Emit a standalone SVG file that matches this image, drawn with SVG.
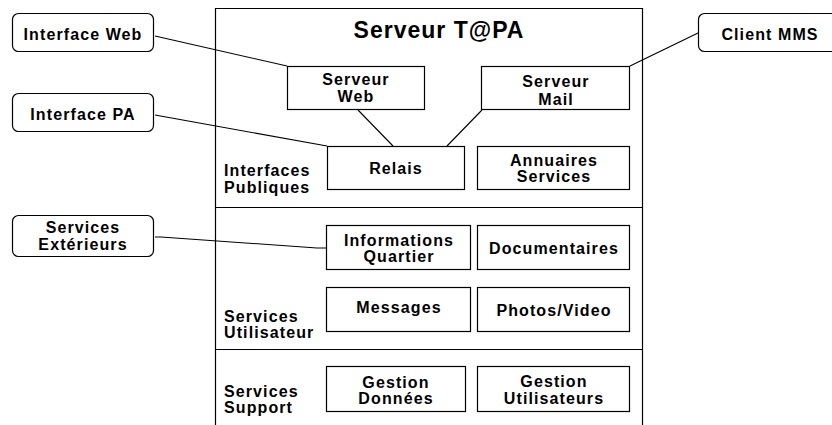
<svg xmlns="http://www.w3.org/2000/svg" width="832" height="425" viewBox="0 0 832 425">
<style>
  text { font-family: "Liberation Sans", Arial, sans-serif; font-weight: bold; font-size: 16px; letter-spacing: 1.1px; fill: #000; }
  .c { text-anchor: middle; }
  .title { font-size: 23px; letter-spacing: 1px; }
  .box { fill: #fff; stroke: #000; stroke-width: 1.2; }
  .ext { fill: #fff; stroke: #000; stroke-width: 1.2; }
  .frame { fill: none; stroke: #000; stroke-width: 1.2; }
  .conn line, .conn polyline { fill: none; stroke: #000; stroke-width: 1.1; }
</style>
<rect width="832" height="425" fill="#fff"/>

<g id="serveur-tapa">
  <polyline class="frame" points="215.5,426 215.5,8.5 642.5,8.5 642.5,426"/>
  <line class="frame" x1="215.5" y1="207.5" x2="642.5" y2="207.5"/>
  <line class="frame" x1="215.5" y1="349.5" x2="642.5" y2="349.5"/>
  <text class="title c" x="439" y="38">Serveur T@PA</text>
  <text x="224" y="176">Interfaces</text>
  <text x="224" y="193">Publiques</text>
  <text x="224" y="322">Services</text>
  <text x="224" y="338">Utilisateur</text>
  <text x="224" y="397">Services</text>
  <text x="224" y="413">Support</text>
</g>

<g class="conn" id="connectors">
  <line x1="155" y1="36" x2="287" y2="66"/>
  <line x1="155" y1="115" x2="327" y2="146"/>
  <polyline points="155,237 161,237 317,248 326,248"/>
  <line x1="698" y1="33" x2="630" y2="66"/>
  <line x1="358" y1="110" x2="393" y2="146"/>
  <line x1="482" y1="110" x2="447" y2="146"/>
</g>

<g id="interface-web">
  <rect class="ext" x="12.5" y="13.5" width="141" height="38" rx="6"/>
  <text class="c" x="83" y="40">Interface Web</text>
</g>
<g id="interface-pa">
  <rect class="ext" x="12.5" y="93.5" width="141" height="38" rx="6"/>
  <text class="c" x="83" y="120">Interface PA</text>
</g>
<g id="services-exterieurs">
  <rect class="ext" x="12.5" y="215.5" width="141" height="41" rx="6"/>
  <text class="c" x="83" y="233">Services</text>
  <text class="c" x="83" y="250">Extérieurs</text>
</g>
<g id="client-mms">
  <rect class="ext" x="698.5" y="13.5" width="143" height="38" rx="6"/>
  <text class="c" x="770" y="40">Client MMS</text>
</g>

<g id="serveur-web">
  <rect class="box" x="287.5" y="66.5" width="137" height="43"/>
  <text class="c" x="356" y="85">Serveur</text>
  <text class="c" x="356" y="102">Web</text>
</g>
<g id="serveur-mail">
  <rect class="box" x="481.5" y="66.5" width="148" height="43"/>
  <text class="c" x="556" y="87">Serveur</text>
  <text class="c" x="556" y="105">Mail</text>
</g>
<g id="relais">
  <rect class="box" x="327.5" y="146.5" width="137" height="43"/>
  <text class="c" x="396" y="174">Relais</text>
</g>
<g id="annuaires-services">
  <rect class="box" x="477.5" y="146.5" width="152" height="43"/>
  <text class="c" x="554" y="166">Annuaires</text>
  <text class="c" x="554" y="182">Services</text>
</g>
<g id="informations-quartier">
  <rect class="box" x="326.5" y="225.5" width="144" height="44"/>
  <text class="c" x="399" y="246">Informations</text>
  <text class="c" x="399" y="262">Quartier</text>
</g>
<g id="documentaires">
  <rect class="box" x="477.5" y="225.5" width="152" height="44"/>
  <text class="c" x="554" y="254">Documentaires</text>
</g>
<g id="messages">
  <rect class="box" x="326.5" y="287.5" width="144" height="44"/>
  <text class="c" x="399" y="313">Messages</text>
</g>
<g id="photos-video">
  <rect class="box" x="477.5" y="287.5" width="152" height="44"/>
  <text class="c" x="554" y="316">Photos/Video</text>
</g>
<g id="gestion-donnees">
  <rect class="box" x="326.5" y="366.5" width="139" height="45"/>
  <text class="c" x="396" y="388">Gestion</text>
  <text class="c" x="396" y="404">Données</text>
</g>
<g id="gestion-utilisateurs">
  <rect class="box" x="477.5" y="366.5" width="152" height="45"/>
  <text class="c" x="554" y="387">Gestion</text>
  <text class="c" x="554" y="404">Utilisateurs</text>
</g>
</svg>
